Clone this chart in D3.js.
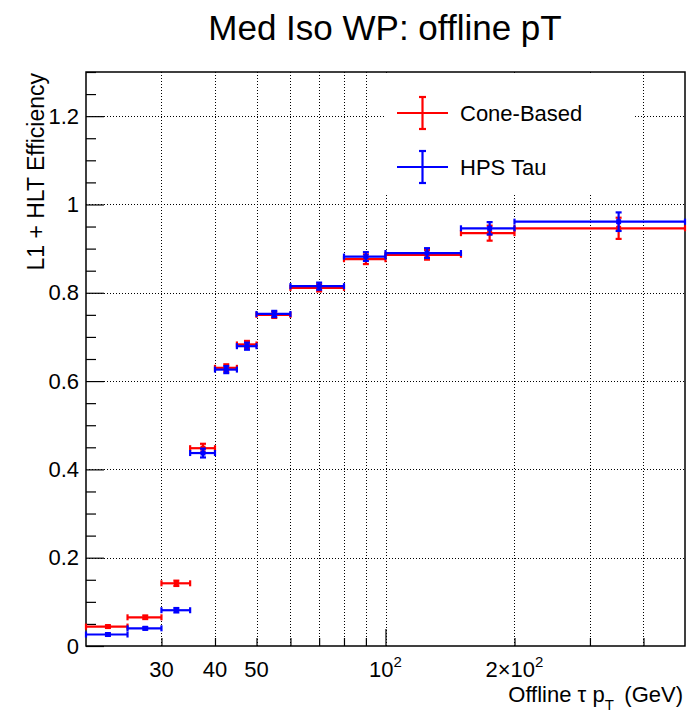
<!DOCTYPE html>
<html>
<head>
<meta charset="utf-8">
<script src="https://cdn.jsdelivr.net/npm/d3@7"></script>
<style>
  html, body { margin: 0; padding: 0; background: #fff; }
  svg { display: block; font-family: "Liberation Sans", Arial, Helvetica, sans-serif; }
</style>
</head>
<body>
<svg id="chart" width="688" height="719"></svg>
<script>
// ---------------- data ----------------
const binEdges = [20, 25, 30, 35, 40, 45, 50, 60, 80, 100, 150, 200, 500];
const coneEff  = [0.044, 0.065, 0.142, 0.448, 0.630, 0.683, 0.750, 0.811, 0.876, 0.886, 0.935, 0.946];
const coneErr  = [0.003, 0.004, 0.006, 0.010, 0.008, 0.008, 0.007, 0.008, 0.011, 0.011, 0.017, 0.024];
const hpsEff   = [0.026, 0.040, 0.081, 0.437, 0.626, 0.679, 0.752, 0.815, 0.882, 0.890, 0.946, 0.961];
const hpsErr   = [0.003, 0.003, 0.005, 0.010, 0.008, 0.008, 0.007, 0.008, 0.010, 0.011, 0.014, 0.021];
const yMajorTicks = [0, 0.2, 0.4, 0.6, 0.8, 1.0, 1.2];
const xMinorTicks = [30, 40, 50, 60, 70, 80, 90, 200, 300, 400];
const xMajorTicks = [100];
const xGridTicks  = [30, 40, 50, 60, 70, 80, 90, 100, 200, 300, 400];
const xLabels = [
  {v: 30, base: "30"}, {v: 40, base: "40"}, {v: 50, base: "50"},
  {v: 100, base: "10", sup: "2"}, {v: 200, base: "2\u00D710", sup: "2"}
];
const series = [
  {name: "Cone-Based", color: "#ff0000", eff: coneEff, err: coneErr},
  {name: "HPS Tau",    color: "#0000ff", eff: hpsEff,  err: hpsErr}
];
const titleText = "Med Iso WP: offline pT";

// ---------------- layout ----------------
const L = 86, R = 685, T = 72, B = 646;
const svg = d3.select("#chart");
const x = d3.scaleLog().domain([20, 500]).range([L, R]);
const y = d3.scaleLinear().domain([0, 1.3]).range([B, T]);

// grid
const grid = svg.append("g").attr("stroke", "#000").attr("stroke-width", 1)
  .attr("stroke-dasharray", "1,2").attr("fill", "none");
grid.selectAll("line.v").data(xGridTicks).join("line")
  .attr("x1", d => Math.round(x(d)) + 0.5).attr("x2", d => Math.round(x(d)) + 0.5)
  .attr("y1", T).attr("y2", B);
grid.selectAll("line.h").data(yMajorTicks.filter(d => d > 0)).join("line")
  .attr("x1", L).attr("x2", R)
  .attr("y1", d => Math.round(y(d)) + 0.5).attr("y2", d => Math.round(y(d)) + 0.5);

// y axis
const yMinor = d3.range(0, 1.3001, 0.05).filter(v => Math.abs(v * 5 - Math.round(v * 5)) > 1e-6);
const yAxisMinor = svg.append("g").attr("transform", `translate(${L},0)`)
  .call(d3.axisLeft(y).tickValues(yMinor).tickSize(-10).tickFormat(""));
const yAxis = svg.append("g").attr("transform", `translate(${L},0)`)
  .call(d3.axisLeft(y).tickValues(yMajorTicks).tickSize(-18).tickPadding(7)
    .tickFormat(d => String(+d.toFixed(1))));
[yAxis, yAxisMinor].forEach(g => {
  g.select(".domain").remove();
  g.selectAll(".tick line").attr("stroke", "#000").attr("stroke-width", 1.2);
});
yAxis.selectAll(".tick text").attr("font-size", 22).attr("fill", "#000")
  .attr("font-family", "Liberation Sans, Arial, sans-serif");

// x axis
const xAxisMinor = svg.append("g").attr("transform", `translate(0,${B})`)
  .call(d3.axisBottom(x).tickValues(xMinorTicks).tickSize(-8).tickFormat(""));
const xAxisMajor = svg.append("g").attr("transform", `translate(0,${B})`)
  .call(d3.axisBottom(x).tickValues(xMajorTicks).tickSize(-17).tickFormat(""));
[xAxisMinor, xAxisMajor].forEach(g => {
  g.select(".domain").remove();
  g.selectAll(".tick line").attr("stroke", "#000").attr("stroke-width", 1.2);
});
const xl = svg.append("g").attr("font-size", 22).attr("fill", "#000");
xLabels.forEach(l => {
  const t = xl.append("text").attr("y", 677).attr("text-anchor", "middle");
  t.append("tspan").text(l.base);
  if (l.sup) t.append("tspan").attr("dy", -10).attr("font-size", 15).text(l.sup);
  const w = t.node().getComputedTextLength();
  t.attr("text-anchor", "start").attr("x", x(l.v) - w / 2);
});

// frame
svg.append("rect").attr("x", L).attr("y", T).attr("width", R - L).attr("height", B - T)
  .attr("fill", "none").attr("stroke", "#000").attr("stroke-width", 1.5);

// data
const bins = d3.range(binEdges.length - 1).map(i => ({
  lo: binEdges[i], hi: binEdges[i + 1], c: (binEdges[i] + binEdges[i + 1]) / 2
}));
series.forEach(s => {
  const g = svg.append("g").attr("stroke", s.color).attr("fill", s.color).attr("stroke-width", 2.2);
  bins.forEach((b, i) => {
    const v = s.eff[i], e = s.err[i];
    const yc = y(v), x0 = x(b.lo), x1 = x(b.hi), xc = x(b.c);
    g.append("line").attr("x1", x0).attr("x2", x1).attr("y1", yc).attr("y2", yc);
    g.append("line").attr("x1", xc).attr("x2", xc).attr("y1", y(v + e)).attr("y2", y(v - e));
    g.append("line").attr("x1", x0).attr("x2", x0).attr("y1", yc - 3).attr("y2", yc + 3);
    g.append("line").attr("x1", x1).attr("x2", x1).attr("y1", yc - 3).attr("y2", yc + 3);
    g.append("line").attr("x1", xc - 3).attr("x2", xc + 3).attr("y1", y(v + e)).attr("y2", y(v + e));
    g.append("line").attr("x1", xc - 3).attr("x2", xc + 3).attr("y1", y(v - e)).attr("y2", y(v - e));
    g.append("rect").attr("x", xc - 2.5).attr("y", yc - 2.5).attr("width", 5).attr("height", 5)
      .attr("stroke", "none");
  });
});

// legend
svg.append("rect").attr("x", 384).attr("y", T + 1).attr("width", 249).attr("height", 122).attr("fill", "#fff");
series.forEach((s, i) => {
  const yy = 113 + i * 54;
  const g = svg.append("g").attr("stroke", s.color).attr("stroke-width", 2.2);
  g.append("line").attr("x1", 397).attr("x2", 448).attr("y1", yy).attr("y2", yy);
  g.append("line").attr("x1", 422.5).attr("x2", 422.5).attr("y1", yy - 16).attr("y2", yy + 16);
  g.append("line").attr("x1", 419).attr("x2", 426).attr("y1", yy - 16).attr("y2", yy - 16);
  g.append("line").attr("x1", 419).attr("x2", 426).attr("y1", yy + 16).attr("y2", yy + 16);
  svg.append("text").attr("x", 460).attr("y", yy + 8).attr("font-size", 22).attr("fill", "#000").text(s.name);
});

// title
svg.append("text").attr("x", 385).attr("y", 40).attr("text-anchor", "middle")
  .attr("font-size", 35).attr("fill", "#000").text(titleText);

// x title
const xt = svg.append("text").attr("x", 683).attr("y", 702).attr("text-anchor", "end")
  .attr("font-size", 22).attr("fill", "#000");
xt.append("tspan").text("Offline \u03C4 p");
xt.append("tspan").attr("dy", 8).attr("font-size", 15).text("T");
xt.append("tspan").attr("dy", -8).text("\u2009 (GeV)");

// y title
svg.append("text").attr("transform", "translate(44,73) rotate(-90)").attr("text-anchor", "end")
  .attr("font-size", 23).attr("fill", "#000").text("L1 + HLT Efficiency");
</script>
</body>
</html>
